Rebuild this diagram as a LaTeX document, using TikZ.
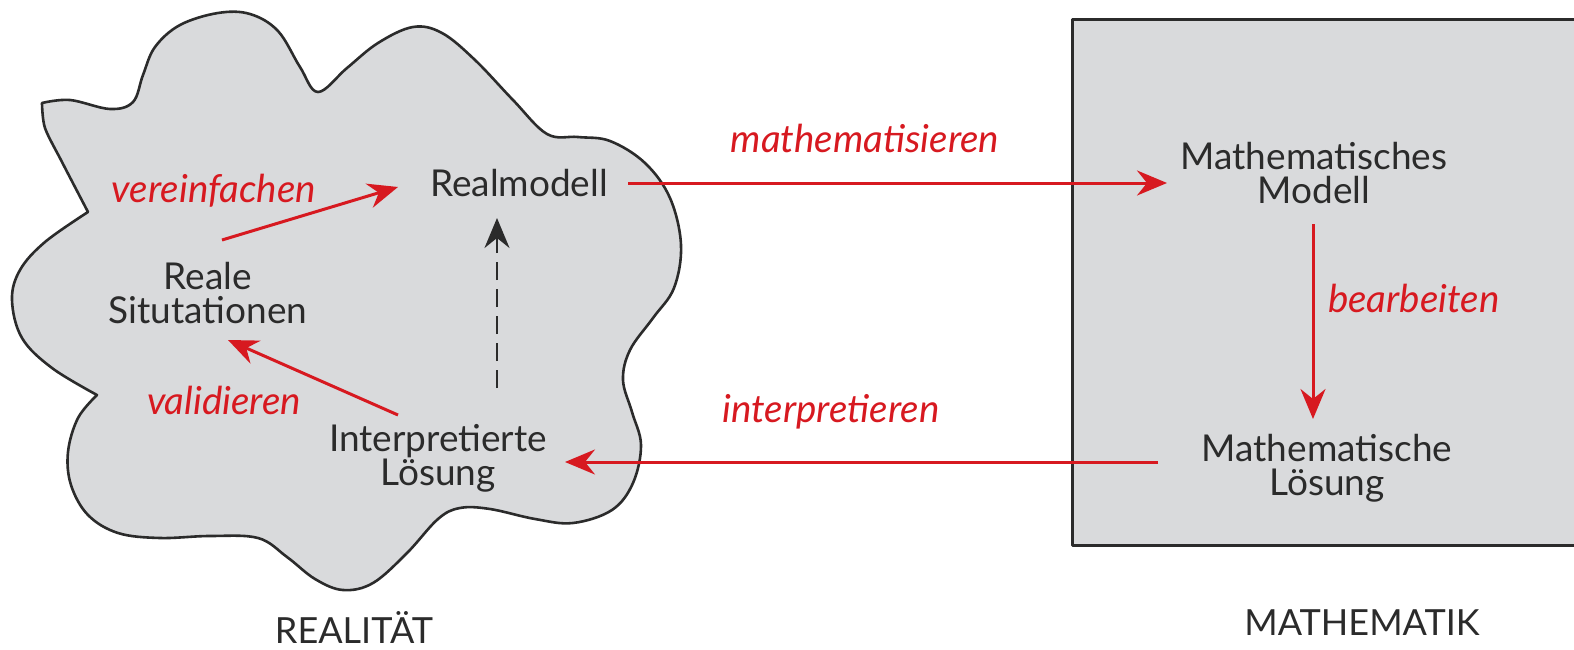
\documentclass[tikz,border=0pt]{standalone}
\usepackage{fontspec}
\setmainfont{Lato}
\usetikzlibrary{arrows.meta,calc}
\definecolor{redarrow}{HTML}{D71920}
\definecolor{cloudgray}{HTML}{D9DADC}
\definecolor{ink}{HTML}{2B2B2B}
\begin{document}
\begin{tikzpicture}[x=1pt,y=-1pt,
  every node/.style={inner sep=0pt, outer sep=0pt, align=center},
  term/.style={font=\fontsize{37}{34}\selectfont, text=ink},
  lbl/.style={font=\fontsize{38.5}{40}\selectfont\itshape, text=redarrow},
  area/.style={font=\fontsize{36}{40}\selectfont, text=ink},
  tip/.style={-{Stealth[length=30pt,width=25pt,inset=10pt]}},
  redarr/.style={draw=redarrow, line width=3pt, tip},
  dasharr/.style={draw=ink, line width=2.8pt, dash pattern=on 18pt off 9pt, tip},
  outline/.style={draw=ink, line width=2.6pt, fill=cloudgray, line join=round}
]
\useasboundingbox (0,0) rectangle (1574,650);
\clip (0,0) rectangle (1574,650);

% the cloud of reality
\path[outline]
  plot[smooth, tension=0.6] coordinates {
    (42,103) (70,100) (110,109) (133,102) (143,75) (155,47) (180,25) (218,13)
    (250,14) (278,31) (300,67) (318,92) (347,68) (378,43) (413,27) (442,33)
    (475,60) (513,100) (547,134) (578,137) (610,141) (645,163) (670,198)
    (681,245) (674,288) (653,318) (630,350) (623,380) (632,412) (641,445)
    (633,483) (612,510) (573,523) (535,519) (490,509) (460,508) (438,519)
    (407,553) (373,583) (343,590) (315,579) (287,557) (258,538) (210,536)
    (160,538) (118,533) (88,515) (71,485) (68,452) (78,418) (97,395)}
  -- plot[smooth, tension=0.6] coordinates {
    (97,395) (52,368) (22,338) (12,300) (20,270) (45,242) (88,212)}
  -- plot[smooth, tension=0.5] coordinates {
    (88,212) (62,162) (45,128) (42,103)}
  -- cycle;

% the box of mathematics
\path[outline, line width=3pt] (1072,20) rectangle (1620,545);

% terms
\node[term] (realmodell) at (519,183) {Realmodell};
\node[term] (reale) at (208,293) {Reale\\Situtationen};
\node[term] (interp) at (438,458) {Interpretierte\\Lösung};
\node[term] (mathmodell) at (1314,173) {Mathematisches\\Modell};
\node[term] (mathloes) at (1327,468) {Mathematische\\Lösung};

% connectors
\draw[redarr] ($(reale.center)+(14,-53)$) -- ($(realmodell.center)+(-121,4)$);
\draw[redarr] ($(interp.center)+(-40,-43)$) -- ($(reale.center)+(20,47)$);
\draw[dasharr] ($(interp.center)+(59,-70)$) -- ($(realmodell.center)+(-22,35)$);
\draw[redarr] ($(realmodell.center)+(109,0)$) -- ($(mathmodell.center)+(-147,10)$);
\draw[redarr] ($(mathmodell.center)+(-1,51)$) -- ($(mathloes.center)+(-14,-49)$);
\draw[redarr] ($(mathloes.center)+(-169,-6)$) -- ($(interp.center)+(127,4)$);

% labels of the steps
\node[lbl] (l1) at (214,191) {vereinfachen};
\node[lbl] (l2) at (224,400) {validieren};
\node[lbl] (l3) at (865,138) {mathematisieren};
\node[lbl, anchor=west] (l4) at (1328,298) {bearbeiten};
\node[lbl] (l5) at (831,412) {interpretieren};

% area captions
\node[area] (real) at (354,627) {REALITÄT};
\node[area] (math) at (1362,623) {MATHEMATIK};
\end{tikzpicture}
\end{document}
